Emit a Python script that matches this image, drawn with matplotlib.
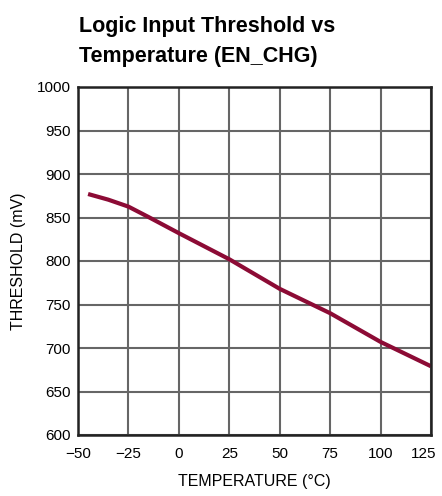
import matplotlib.pyplot as plt
from matplotlib import font_manager
from matplotlib.transforms import ScaledTranslation

# datos
temperatura = [-45, -35, -25, -15, 0, 25, 50, 75, 100, 125]
umbral_mV = [877, 870.5, 862.5, 850.5, 832, 802, 768, 740, 707, 679]

x_ticks = [-50, -25, 0, 25, 50, 75, 100, 125]
x_labels = ["\u221250", "\u221225", "0", "25", "50", "75", "100", "125"]
y_ticks = [600, 650, 700, 750, 800, 850, 900, 950, 1000]

nombres = [f.name for f in font_manager.fontManager.ttflist]
fuente = "Liberation Sans Narrow" if "Liberation Sans Narrow" in nombres else "Liberation Sans"
plt.rcParams['font.family'] = [fuente, 'DejaVu Sans']

fig = plt.figure(figsize=(4.42, 4.96), dpi=100)
ax = fig.add_axes([78 / 442, 1 - 435 / 496, 353 / 442, 348 / 496])

ax.plot(temperatura, umbral_mV, color='#8c0b35', linewidth=3, solid_capstyle='butt')

ax.set_xlim(-50, 125)
ax.set_ylim(600, 1000)
ax.set_xticks(x_ticks)
ax.set_xticklabels(x_labels)
ax.set_yticks(y_ticks)
ax.tick_params(length=0, labelsize=11)
ax.tick_params(axis='x', pad=9)
ax.tick_params(axis='y', pad=5)
ax.grid(True, color='#666666', linewidth=1.5)
for s in ax.spines.values():
    s.set_linewidth(1.8)
    s.set_color('#222222')

# la ultima etiqueta un poco a la izquierda para que no se corte
ultima = ax.get_xticklabels()[-1]
ultima.set_transform(ultima.get_transform() + ScaledTranslation(-7 / 100, 0, fig.dpi_scale_trans))

ax.set_xlabel("TEMPERATURE (\u00b0C)", fontsize=11.5, labelpad=9)
ax.set_ylabel("THRESHOLD (mV)", fontsize=11.5, labelpad=8)

# titulo en dos lineas
fig.text(79 / 442, 1 - 32 / 496, "Logic Input Threshold vs",
         fontsize=15.5, fontweight='bold', ha='left', va='baseline')
fig.text(79 / 442, 1 - 62 / 496, "Temperature (EN_CHG)",
         fontsize=15.5, fontweight='bold', ha='left', va='baseline')

fig.savefig("out.png", dpi=100)
